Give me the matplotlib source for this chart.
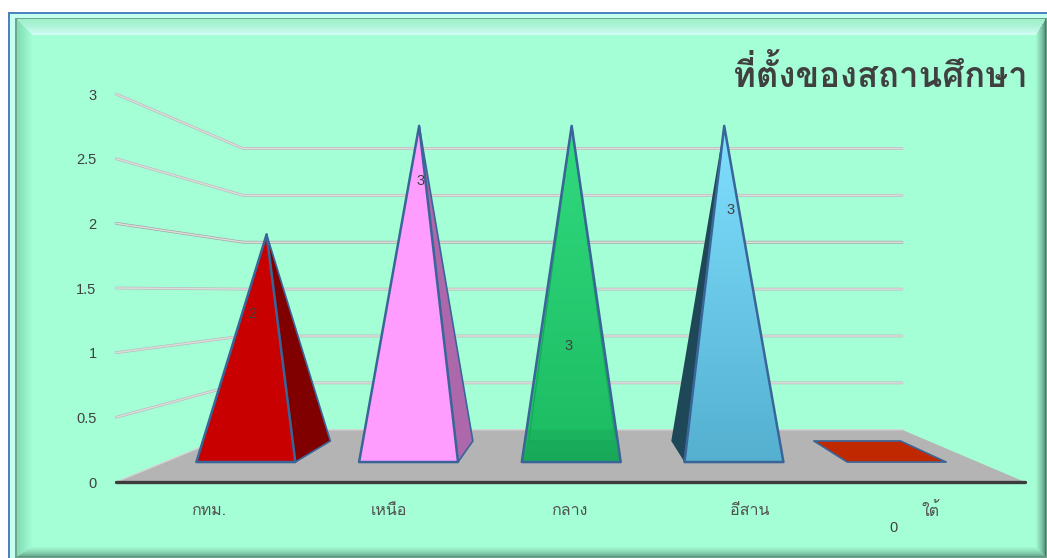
import numpy as np
import matplotlib
matplotlib.use("Agg")
import matplotlib.pyplot as plt
from matplotlib.colors import LinearSegmentedColormap, to_rgb
from matplotlib.patches import Polygon
from matplotlib.transforms import ScaledTranslation

# ---- data ----
categories = ["กทม.", "เหนือ", "กลาง", "อีสาน", "ใต้"]
values = [2, 3, 3, 3, 0]
value_ticks = [0, 0.5, 1, 1.5, 2, 2.5, 3]
value_tick_labels = ["0", "0.5", "1", "1.5", "2", "2.5", "3"]
title = "ที่ตั้งของสถานศึกษา"

# ---- styles ----
W, H = 1047, 558
BG = "#a5ffd6"
THAI = ["Loma", "DejaVu Sans"]
LATIN = ["Liberation Sans", "DejaVu Sans"]
TXT = "#404040"
EDGE = "#3a6598"
front_top = ["#c80000", "#ff9dff", "#31da7e", "#80e0ff", "#c02800"]
front_bot = ["#c80000", "#ff9dff", "#1cbb62", "#55b0d0", "#c02800"]
side_col = ["#800000", "#ad68ab", "#1cbb62", "#1e4757", "#c02800"]
label_px = [(252, 314), (421, 181), (569, 346), (731, 210), (893, 528)]
cat_label_dx = [2, 0, -1, -2, -4]

fig = plt.figure(figsize=(W / 100, H / 100), dpi=100, facecolor="white")


# ---- bevelled frame (decoration) ----
def c(h):
    return np.array(to_rgb(h))


img = np.ones((H, W, 3))
yy, xx = np.mgrid[0:H, 0:W]
x0, y0 = 8, 12
inside = (xx >= x0) & (yy >= y0)
img[inside] = c("#4f81bd")
band = (xx >= x0 + 2) & (yy >= y0 + 2)
img[band] = c("#c4fff0")
img[(xx >= 15) & (yy >= 18)] = c("#6fa58f")
ix0, iy0, ix1, iy1 = 17, 19, 1045, 556
panel = (xx >= ix0) & (yy >= iy0) & (xx <= ix1) & (yy <= iy1)
img[panel] = c(BG)
wt, wl, wr, wb = 16.0, 15.0, 10.0, 10.0
dt = (yy - iy0) / wt
dl = (xx - ix0) / wl
dr = (ix1 - xx) / wr
db = (iy1 - yy) / wb
dmin = np.minimum.reduce([dt, dl, dr, db])
bev = panel & (dmin < 1)
for d, w0, w1, p in [
    (dt, "#a0f0cc", "#d8fffa", 1.5),
    (dl, "#82dcb4", BG, 1.0),
    (dr, "#487a66", BG, 0.6),
    (db, "#5a9680", BG, 0.6),
]:
    m = bev & (d == dmin)
    t = np.clip(d[m], 0, 1)[:, None] ** p
    img[m] = c(w0) * (1 - t) + c(w1) * t
bg_ax = fig.add_axes([0, 0, 1, 1], zorder=-5)
bg_ax.imshow(img, extent=[0, W, H, 0], aspect="auto", interpolation="bilinear")
bg_ax.axis("off")

# ---- chart axes: the front plane of the 3-D box ----
ax = fig.add_axes([116 / W, (H - 482) / H, 909 / W, 388 / H], zorder=1)
ax.patch.set_alpha(0)
n = len(categories)
XV, YV = 2.540, 1.469        # vanishing point in data units
S_BACK = 0.725               # scale of the back wall
S_F, S_B = 0.895, 0.784      # scale of the base's front / back edges
S_A = 0.839                  # scale of the apex
HALF = 0.304                 # half base width, in categories


def P(x, s, v=0.0):
    return (XV + (x - XV) * s, YV + (v - YV) * s)


# floor
floor = Polygon([P(0, 1), P(n, 1), P(n, S_BACK), P(0, S_BACK)], closed=True,
                fc="#b4b4b4", ec="none", zorder=1, clip_on=False)
ax.add_patch(floor)

# gridlines: left wall + back wall
for v in value_ticks:
    pts = [P(0, 1, v), P(0, S_BACK, v), P(n, S_BACK, v)]
    xs, ys = zip(*pts)
    dark = "#a0a0a0" if v == 2 else "#b8b8b8"
    if v == 0:
        ax.plot(xs, ys, color="#d4d4d4", lw=1.0, zorder=1.5, clip_on=False)
    else:
        ax.plot(xs, ys, color=dark, lw=2.0, zorder=2, clip_on=False, solid_capstyle="round")
        ax.plot(xs, ys, color="#dcdcdc", lw=1.1, zorder=2.1, clip_on=False)

# pyramids
for i, v in enumerate(values):
    cx = i + 0.5
    L, R = cx - HALF, cx + HALF
    fl, fr = P(L, S_F), P(R, S_F)
    bl, br = P(L, S_B), P(R, S_B)
    z = 3 + i * 0.1
    if v == 0:
        ax.add_patch(Polygon([fl, fr, br, bl], closed=True, fc=front_top[i], ec=EDGE,
                             lw=1.2, zorder=z, clip_on=False, joinstyle="round"))
        continue
    apex = P(cx, S_A, v)
    # visible side
    if br[0] > fr[0] + 1e-6:
        side = [fr, br, apex]
    elif bl[0] < fl[0] - 1e-6:
        side = [fl, bl, apex]
    else:
        side = None
    if side is not None:
        ax.add_patch(Polygon(side, closed=True, fc=side_col[i], ec=EDGE if i < 2 else "none",
                             lw=1.2, zorder=z, clip_on=False, joinstyle="round"))
    face = Polygon([fl, fr, apex], closed=True, fc=front_bot[i], ec="none", zorder=z + 0.01,
                   clip_on=False)
    ax.add_patch(face)
    if front_top[i] != front_bot[i]:
        cm = LinearSegmentedColormap.from_list("g", [front_top[i], front_bot[i]])
        grad = np.linspace(0, 1, 256)[:, None]
        im = ax.imshow(grad, cmap=cm, aspect="auto", zorder=z + 0.02,
                       extent=[fl[0], fr[0], fl[1], apex[1]], interpolation="bilinear")
        im.set_clip_path(face)
    if i == 2:
        # translucent front face: floor and back edge show through
        shade = Polygon([P(0, 1), P(n, 1), P(n, S_BACK), P(0, S_BACK)], closed=True,
                        fc="black", alpha=0.05, ec="none", zorder=z + 0.03)
        ax.add_patch(shade)
        shade.set_clip_on(True)
        shade.set_clip_path(face)
        strip = Polygon([fl, fr, br, bl], closed=True, fc="black", alpha=0.04, ec="none",
                        zorder=z + 0.03, clip_on=False)
        ax.add_patch(strip)
        xs, ys = zip(bl, apex, br, bl)
        ax.plot(xs, ys, color="#17a85c", lw=0.9, zorder=z + 0.04, clip_on=False)
    ax.add_patch(Polygon([fl, fr, apex], closed=True, fc="none", ec=EDGE, lw=1.8,
                         zorder=z + 0.05, clip_on=False, joinstyle="round"))

# axes and ticks
ax.set_xlim(0, n)
ax.set_ylim(0, 3)
for s in ("top", "left", "right"):
    ax.spines[s].set_visible(False)
ax.spines["bottom"].set_linewidth(2.4)
ax.spines["bottom"].set_color("#3c3c3c")
ax.spines["bottom"].set_zorder(6)
ax.spines["bottom"].set_capstyle("round")
ax.set_yticks(value_ticks, value_tick_labels, family=LATIN, fontsize=10.5, color=TXT)
ax.set_xticks(np.arange(n) + 0.5, categories, family=THAI, fontsize=11.5, color="#505050")
ax.tick_params(axis="y", length=0, pad=14)
ax.tick_params(axis="x", length=0, pad=15)
for lab, dx in zip(ax.get_xticklabels(), cat_label_dx):
    lab.set_transform(lab.get_transform() + ScaledTranslation(dx / 100, 0, fig.dpi_scale_trans))

# value labels
for v, (px, py) in zip(values, label_px):
    fig.text(px / W, 1 - py / H, str(v), ha="center", va="center", family=LATIN,
             fontsize=10.5, color=TXT, zorder=10)

# title
fig.text(1028 / W, 1 - 87 / H, title, ha="right", va="baseline", family=THAI,
         fontsize=25, fontweight="bold", color=TXT, zorder=10)

fig.savefig("out.png", dpi=100, facecolor="white")
